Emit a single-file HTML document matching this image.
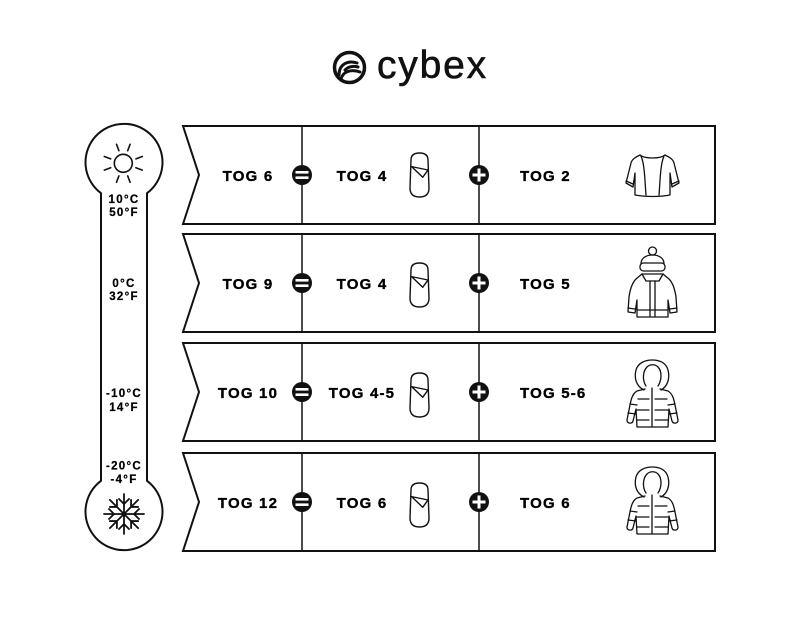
<!DOCTYPE html>
<html><head><meta charset="utf-8"><style>
html,body{margin:0;padding:0;background:#fff;}
svg{display:block;}
.t{font-family:"Liberation Sans",Arial,sans-serif;font-weight:700;font-size:15px;letter-spacing:1.2px;fill:#000;stroke:#000;stroke-width:0.35px;}
.s{font-family:"Liberation Sans",Arial,sans-serif;font-weight:700;font-size:11.5px;letter-spacing:1.3px;fill:#000;stroke:#000;stroke-width:0.25px;}
</style></head><body>
<svg width="800" height="618" viewBox="0 0 800 618" xmlns="http://www.w3.org/2000/svg">
<rect width="800" height="618" fill="#fff"/>
<!-- logo -->
<circle cx="349.5" cy="67.5" r="15" fill="none" stroke="#111" stroke-width="3.5"/>
<path d="M339,75 C339,64 348,60 357,63 M341,79 C343,71 352,69 360,72 M345,70 C349,66 354,66 358,67" fill="none" stroke="#111" stroke-width="3" stroke-linecap="round"/>
<text x="377" y="78" font-family="Liberation Sans, Arial, sans-serif" font-size="39" letter-spacing="1.8" fill="#111" stroke="#111" stroke-width="0.6">cybex</text>

<!-- thermometer -->
<path d="M101,193.2 A38.5,38.5 0 1 1 147,193.2 L147,480.8 A38.5,38.5 0 1 1 101,480.8 Z" fill="none" stroke="#111" stroke-width="2"/>
<!-- sun -->
<g stroke="#111" stroke-width="1.6" fill="none" stroke-linecap="round">
<circle cx="123.3" cy="163.3" r="9"/>
<g transform="translate(123.3,163.3)">
<line x1="4.4" y1="-12.6" x2="6.8" y2="-19"/>
<line x1="-4.4" y1="-12.6" x2="-6.8" y2="-19"/>
<line x1="12.6" y1="-4.4" x2="19" y2="-6.8"/>
<line x1="-12.6" y1="-4.4" x2="-19" y2="-6.8"/>
<line x1="12.6" y1="4.4" x2="19" y2="6.8"/>
<line x1="-12.6" y1="4.4" x2="-19" y2="6.8"/>
<line x1="4.4" y1="12.6" x2="6.8" y2="19"/>
<line x1="-4.4" y1="12.6" x2="-6.8" y2="19"/>
</g>
</g>
<!-- snowflake -->
<g transform="translate(124,514)" stroke="#111" stroke-width="1.8" fill="none" stroke-linecap="round">
<g id="arm"><line x1="0" y1="0" x2="0" y2="-20"/><polyline points="-5,-15 0,-10 5,-15"/></g>
<use href="#arm" transform="rotate(45)"/>
<use href="#arm" transform="rotate(90)"/>
<use href="#arm" transform="rotate(135)"/>
<use href="#arm" transform="rotate(180)"/>
<use href="#arm" transform="rotate(225)"/>
<use href="#arm" transform="rotate(270)"/>
<use href="#arm" transform="rotate(315)"/>
</g>
<text class="s" x="124" y="203" text-anchor="middle" font-weight="bold">10°C</text>
<text class="s" x="124" y="216" text-anchor="middle" font-weight="bold">50°F</text>
<text class="s" x="124" y="287" text-anchor="middle" font-weight="bold">0°C</text>
<text class="s" x="124" y="300" text-anchor="middle" font-weight="bold">32°F</text>
<text class="s" x="124" y="397" text-anchor="middle" font-weight="bold">-10°C</text>
<text class="s" x="124" y="411" text-anchor="middle" font-weight="bold">14°F</text>
<text class="s" x="124" y="469.5" text-anchor="middle" font-weight="bold">-20°C</text>
<text class="s" x="124" y="483" text-anchor="middle" font-weight="bold">-4°F</text>

<defs>
<g id="eq">
<circle r="10" fill="#111"/>
<rect x="-6.5" y="-4" width="13" height="2.6" fill="#fff"/>
<rect x="-6.5" y="1.4" width="13" height="2.6" fill="#fff"/>
</g>
<g id="plus">
<circle r="10" fill="#111"/>
<rect x="-6.5" y="-1.5" width="13" height="3" fill="#fff"/>
<rect x="-1.5" y="-6.5" width="3" height="13" fill="#fff"/>
</g>
<g id="bag" fill="none" stroke="#111" stroke-width="1.4" stroke-linejoin="round">
<path d="M411,160 Q411,153 419.5,153 Q428,153 428,160 L429,188 Q429,197 419.5,197 Q410,197 410,188 Z"/>
<path d="M411,166.5 L428,170 M411.5,166.5 L422.7,177.3 L428,170"/>
</g>
<g id="parka" fill="none" stroke="#111" stroke-width="1.3" stroke-linejoin="round" stroke-linecap="round">
<path d="M644,390 C636,386 634,378 636,370 C638,363 645,360 652,360 C660,360 666,363 668,370 C670,378 668,386 661,390"/>
<path d="M646,386 C642,380 643,371 647,367 C650,364 655,364 658,367 C662,371 662,380 658,386"/>
<path d="M645,389 L637,391 C632,394 631,400 630,405 L627,420 C627,424 632,424 633,421 L636,409 L637,427 L668,427 L669,409 L672,421 C673,424 678,424 678,420 L675,405 C674,400 673,394 668,391 L660,389"/>
<path d="M652,388 L652,427"/>
<path d="M638,399 L649,399 M655,399 L667,399 M637,410 L649,410 M655,410 L668,410 M637,420 L649,420 M655,420 L668,420"/>
<path d="M630,404 L637,405 M628,413 L636,414 M675,404 L668,405 M677,413 L669,414"/>
</g>
</defs>

<!-- rows -->
<g fill="none" stroke="#111" stroke-width="2">
<path d="M183,126 L715,126 L715,224 L183,224 L199,175 Z"/>
<path d="M183,234 L715,234 L715,332 L183,332 L199,283 Z"/>
<path d="M183,343 L715,343 L715,441 L183,441 L199,392 Z"/>
<path d="M183,453 L715,453 L715,551 L183,551 L199,502 Z"/>
</g>
<g stroke="#111" stroke-width="1.5">
<line x1="302" y1="126" x2="302" y2="224"/><line x1="479" y1="126" x2="479" y2="224"/>
<line x1="302" y1="234" x2="302" y2="332"/><line x1="479" y1="234" x2="479" y2="332"/>
<line x1="302" y1="343" x2="302" y2="441"/><line x1="479" y1="343" x2="479" y2="441"/>
<line x1="302" y1="453" x2="302" y2="551"/><line x1="479" y1="453" x2="479" y2="551"/>
</g>
<use href="#eq" x="302" y="175"/><use href="#plus" x="479" y="175"/>
<use href="#eq" x="302" y="283"/><use href="#plus" x="479" y="283"/>
<use href="#eq" x="302" y="392"/><use href="#plus" x="479" y="392"/>
<use href="#eq" x="302" y="502"/><use href="#plus" x="479" y="502"/>

<use href="#bag"/>
<use href="#bag" y="110"/>
<use href="#bag" y="220"/>
<use href="#bag" y="330"/>

<text class="t" x="248" y="181" text-anchor="middle" font-weight="bold">TOG 6</text>
<text class="t" x="362" y="181" text-anchor="middle" font-weight="bold">TOG 4</text>
<text class="t" x="520" y="181" font-weight="bold">TOG 2</text>

<text class="t" x="248" y="289" text-anchor="middle" font-weight="bold">TOG 9</text>
<text class="t" x="362" y="289" text-anchor="middle" font-weight="bold">TOG 4</text>
<text class="t" x="520" y="289" font-weight="bold">TOG 5</text>

<text class="t" x="248" y="398" text-anchor="middle" font-weight="bold">TOG 10</text>
<text class="t" x="362" y="398" text-anchor="middle" font-weight="bold">TOG 4-5</text>
<text class="t" x="520" y="398" font-weight="bold">TOG 5-6</text>

<text class="t" x="248" y="508" text-anchor="middle" font-weight="bold">TOG 12</text>
<text class="t" x="362" y="508" text-anchor="middle" font-weight="bold">TOG 6</text>
<text class="t" x="520" y="508" font-weight="bold">TOG 6</text>

<!-- cardigan -->
<g fill="none" stroke="#111" stroke-width="1.3" stroke-linejoin="round" stroke-linecap="round">
<path d="M640,155 C636,157 632,159 631,163 L626,183 L633,187 L635,173 L635,195 C646,197 660,197 670,195 L670,173 L672,187 L679,183 L674,163 C673,159 669,157 665,155"/>
<path d="M640,155 C645,159 660,159 665,155"/>
<path d="M641,156 C645,165 645,185 646,195 M664,156 C660,165 660,185 659,195"/>
<path d="M626,181 L633,184 M679,181 L672,184"/>
</g>
<!-- jacket with hat -->
<g fill="none" stroke="#111" stroke-width="1.3" stroke-linejoin="round" stroke-linecap="round">
<circle cx="652.5" cy="251" r="4"/>
<path d="M641,264 C641,258 646,255 652.5,255 C659,255 664,258 664,264"/>
<rect x="640" y="263" width="25" height="8" rx="3.5"/>
<path d="M642,274 L636,279 C632,283 630,290 629,297 L628,312 L635,313 L637,300 L637,317 L668,317 L668,300 L670,313 L677,312 L676,297 C675,290 673,283 669,279 L663,274 Z"/>
<path d="M642,274 L646,281 L659,281 L663,274"/>
<path d="M650,281 L650,316 M655,281 L655,316"/>
<path d="M637,310 L668,310 M628,308 L635,309 M677,308 L670,309"/>
</g>
<use href="#parka"/>
<use href="#parka" y="107"/>
</svg>
</body></html>
